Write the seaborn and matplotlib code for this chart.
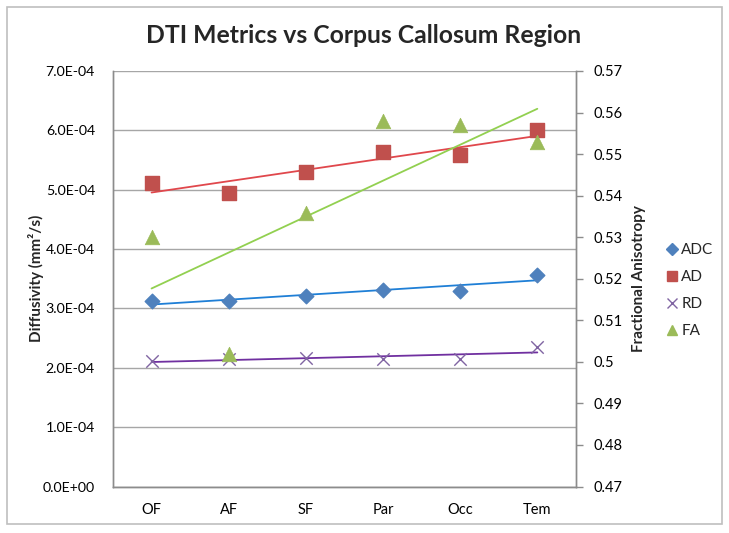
import numpy as np
import pandas as pd
import matplotlib
matplotlib.use("Agg")
import matplotlib.pyplot as plt
import seaborn as sns
from matplotlib.patches import Rectangle
from matplotlib.ticker import FuncFormatter, MultipleLocator
from matplotlib.lines import Line2D

regions = ["OF", "AF", "SF", "Par", "Occ", "Tem"]
adc = [3.12e-4, 3.12e-4, 3.21e-4, 3.31e-4, 3.29e-4, 3.57e-4]
ad = [5.12e-4, 4.94e-4, 5.30e-4, 5.63e-4, 5.59e-4, 6.00e-4]
rd = [2.12e-4, 2.15e-4, 2.16e-4, 2.14e-4, 2.15e-4, 2.35e-4]
fa = [0.530, 0.5018, 0.5359, 0.558, 0.557, 0.553]

marker_colors = {"ADC": "#4F81BD", "AD": "#C0504D", "RD": "#8064A2", "FA": "#9BBB59"}
trend_colors = {"ADC": "#1F7FD6", "AD": "#E0474C", "RD": "#7030A0", "FA": "#92D050"}

sns.set_style("white")
plt.rcParams["font.family"] = ["Lato", "DejaVu Sans"]

fig = plt.figure(figsize=(7.29, 5.33), dpi=100)
ax = fig.add_axes([0.155, 0.0872, 0.635, 0.7796])
ax2 = ax.twinx()

xpos = np.arange(len(regions)) + 0.5
left_df = pd.DataFrame({
    "x": np.tile(xpos, 3),
    "val": adc + ad + rd,
    "series": ["ADC"] * 6 + ["AD"] * 6 + ["RD"] * 6,
})

# trendlines (linear fits)
for name, vals, axis in [("ADC", adc, ax), ("AD", ad, ax), ("RD", rd, ax), ("FA", fa, ax2)]:
    k, b = np.polyfit(xpos, vals, 1)
    tr = pd.DataFrame({"x": xpos, "y": k * xpos + b})
    sns.lineplot(data=tr, x="x", y="y", ax=axis, color=trend_colors[name], lw=1.3, zorder=2)

sizes = {"ADC": 55, "AD": 95, "RD": 80}
mk = {"ADC": "D", "AD": "s", "RD": "x"}
for name in ["ADC", "AD", "RD"]:
    sub = left_df[left_df.series == name]
    sns.scatterplot(data=sub, x="x", y="val", ax=ax, marker=mk[name], s=sizes[name],
                    color=marker_colors[name], edgecolor=marker_colors[name] if name != "RD" else None,
                    linewidth=1.0, zorder=3, legend=False)
sns.scatterplot(x=xpos, y=fa, ax=ax2, marker="^", s=110, color=marker_colors["FA"],
                edgecolor=marker_colors["FA"], linewidth=0.5, zorder=3, legend=False)

ax.set_xlim(0, 6)
ax.set_ylim(0, 7e-4)
ax2.set_ylim(0.47, 0.57)
ax.yaxis.set_major_locator(MultipleLocator(1e-4))
ax2.yaxis.set_major_locator(MultipleLocator(0.01))
ax.yaxis.set_major_formatter(FuncFormatter(lambda v, p: f"{v:.1E}" if v > 0 else "0.0E+00"))
ax2.yaxis.set_major_formatter(FuncFormatter(lambda v, p: "0.5" if abs(v - 0.5) < 1e-9 else f"{v:.2f}"))
ax.set_xticks(xpos)
ax.set_xticklabels(regions)
ax.grid(axis="y", color="#A6A6A6", lw=1.0)
ax.set_axisbelow(True)

for a in (ax, ax2):
    for s in a.spines.values():
        s.set_color("#8C8C8C")
        s.set_linewidth(1.0)
ax.spines["top"].set_visible(False)
ax2.spines["top"].set_visible(False)

ax.tick_params(axis="x", length=0, pad=12, labelsize=10.5, colors="black")
ax.tick_params(axis="y", length=0, pad=13, labelsize=10.2, colors="black")
ax2.tick_params(axis="y", length=5, width=1, color="#8C8C8C", pad=8, labelsize=10.5, labelcolor="black")

ax.set_xlabel("")
ax.set_ylabel("Diffusivity (mm²/s)", fontsize=11, fontweight="bold")
ax.yaxis.set_label_coords(-0.15, 0.5)
ax2.set_ylabel("Fractional Anisotropy", fontsize=11, fontweight="bold", labelpad=6)
ax2.set_xlabel("")

fig.suptitle("DTI Metrics vs Corpus Callosum Region", fontsize=17.8, fontweight="bold",
             x=0.499, y=0.933, va="center")

handles = [
    Line2D([], [], ls="", marker="D", color=marker_colors["ADC"], markersize=6),
    Line2D([], [], ls="", marker="s", color=marker_colors["AD"], markersize=7.5),
    Line2D([], [], ls="", marker="x", color=marker_colors["RD"], markersize=7, mew=1.0),
    Line2D([], [], ls="", marker="^", color=marker_colors["FA"], markersize=7.5),
]
fig.legend(handles, ["ADC", "AD", "RD", "FA"], loc="center left",
           bbox_to_anchor=(0.905, 0.455), frameon=False, fontsize=11,
           handlelength=0.8, handletextpad=0.2, labelspacing=0.85, borderaxespad=0)

fig.patches.append(Rectangle((7 / 729, 9 / 533), 715 / 729, 517 / 533, transform=fig.transFigure,
                             fill=False, edgecolor="#BFBFBF", lw=1.2))

fig.savefig("out.png", dpi=100)
